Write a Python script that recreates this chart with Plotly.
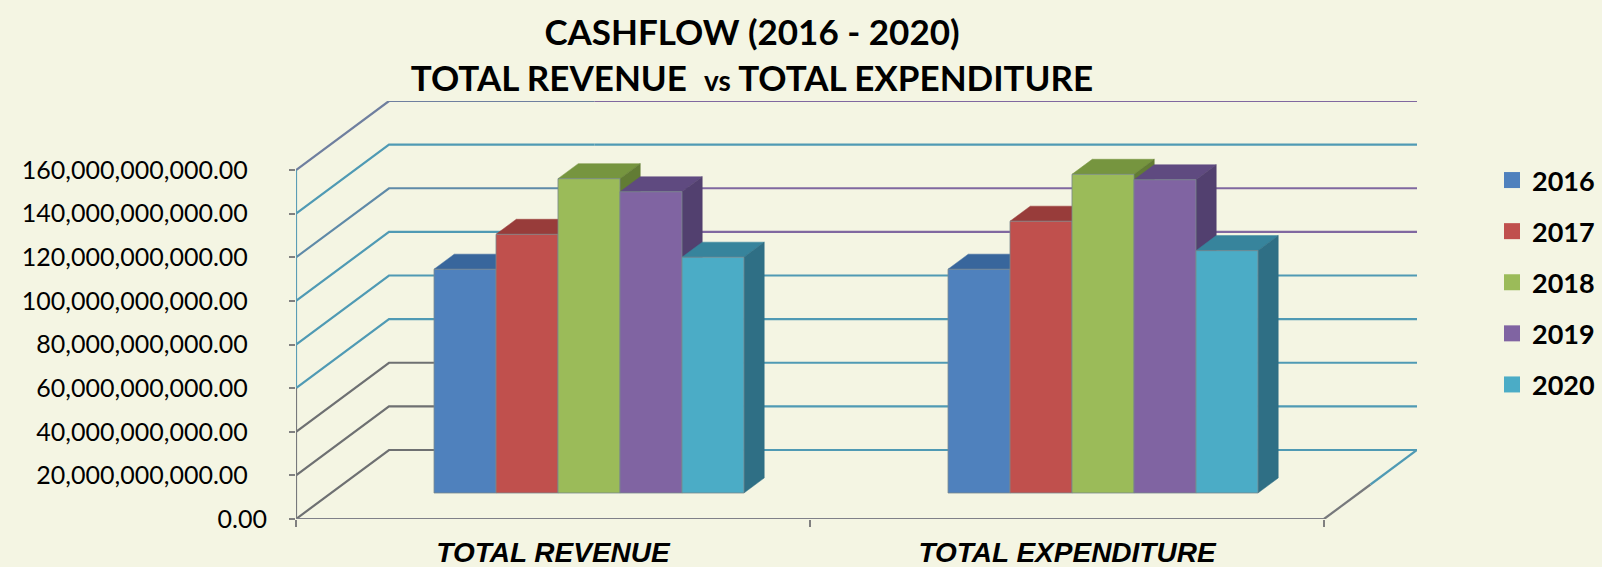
import plotly.graph_objects as go

# ---------- data (values in billions) ----------
categories = ["TOTAL REVENUE", "TOTAL EXPENDITURE"]
years = ["2016", "2017", "2018", "2019", "2020"]
values_2016 = [102.6e9, 102.6e9]
values_2017 = [118.6e9, 124.6e9]
values_2018 = [144.1e9, 146.1e9]
values_2019 = [138.1e9, 143.6e9]
values_2020 = [108.1e9, 111.1e9]
series = [values_2016, values_2017, values_2018, values_2019, values_2020]

y_ticks = [0, 20e9, 40e9, 60e9, 80e9, 100e9, 120e9, 140e9, 160e9]
y_labels = ["0.00"] + [f"{v:,.2f}" + "\u00a0" * 3 for v in y_ticks[1:]]

front_colors = ["#4f81bd", "#c0504d", "#9bbb59", "#8064a2", "#4bacc6"]
top_colors = ["#38669c", "#983c3a", "#76953f", "#5f4a80", "#37849c"]
side_colors = ["#30527e", "#7f3230", "#627c34", "#52406f", "#2f6f85"]
TEAL, PURPLE, GREY = "#4f9ab4", "#8068a0", "#6e7072"
grid_left = [GREY, GREY, GREY, TEAL, TEAL, TEAL, "#5f8aa8", TEAL, "#6f7f9f"]
grid_right = [TEAL, TEAL, TEAL, TEAL, TEAL, PURPLE, PURPLE, TEAL, PURPLE]

# ---------- oblique projection, in axis units ----------
W, H = 1602, 567
L, R, T, B = 296, 1417, 101, 519
CAT_PX = 514.0
VAL_PX = 349.0 / 160e9
DEPTH_X = (R - L - 2 * CAT_PX) / CAT_PX      # categories per unit of depth
DEPTH_Y = (B - T) / VAL_PX - 160e9           # value per unit of depth
BAR_START, BAR_W = 0.2003, 0.1206
D0, D1 = 0.377, 0.595
GRID_BREAK = 0.4


def proj(x, v, d):
    return x + d * DEPTH_X, v + d * DEPTH_Y


def poly(points):
    pts = [proj(*p) for p in points]
    pts.append(pts[0])
    return [p[0] for p in pts], [p[1] for p in pts]


fig = go.Figure()


def line(points, color, width=2.2):
    xs, ys = zip(*[proj(*p) for p in points])
    fig.add_trace(go.Scatter(x=xs, y=ys, mode="lines", line=dict(color=color, width=width),
                             showlegend=False, hoverinfo="skip", cliponaxis=False))


# walls and floor
for v, cl, cr in zip(y_ticks, grid_left, grid_right):
    line([(0, v, 0), (0, v, 1), (GRID_BREAK, v, 1)], cl)
    line([(GRID_BREAK, v, 1), (2, v, 1)], cr)
line([(0, 0, 0), (0, 60e9, 0)], "#77797c")
line([(0, 60e9, 0), (0, 160e9, 0)], "#5b9db5")
line([(0, 0, 0), (2, 0, 0)], "#7f8088")
line([(2, 0, 0), (2, 0, 0.5)], "#77797c")
line([(2, 0, 0.5), (2, 0, 1)], TEAL)


def face(points, color):
    xs, ys = poly(points)
    fig.add_trace(go.Scatter(x=xs, y=ys, mode="lines", fill="toself", fillcolor=color,
                             line=dict(color=color, width=0.5), showlegend=False,
                             hoverinfo="skip", cliponaxis=False))


# bars, painted left to right
for c in range(len(categories)):
    for i, vals in enumerate(series):
        x0 = c + BAR_START + i * BAR_W
        x1 = x0 + BAR_W
        v = vals[c]
        face([(x0, v, D0), (x1, v, D0), (x1, v, D1), (x0, v, D1)], top_colors[i])
        face([(x1, 0, D0), (x1, 0, D1), (x1, v, D1), (x1, v, D0)], side_colors[i])
        xs, ys = poly([(x0, 0, D0), (x1, 0, D0), (x1, v, D0), (x0, v, D0)])
        fig.add_trace(go.Scatter(x=xs, y=ys, mode="lines", fill="toself", fillcolor=front_colors[i],
                                 line=dict(color="rgba(120,135,140,0.8)", width=1), showlegend=False,
                                 name=years[i], cliponaxis=False))

# legend entries
for i, yr in enumerate(years):
    fig.add_trace(go.Scatter(x=[None], y=[None], mode="markers", name=yr, legendgroup=yr,
                             marker=dict(symbol="square", size=16, color=front_colors[i])))

bg = "#f4f5e3"
fig.update_layout(
    width=W, height=H, autosize=False,
    margin=dict(l=L, r=W - R, t=T, b=H - B, pad=0, autoexpand=False),
    paper_bgcolor=bg, plot_bgcolor=bg,
    title=dict(
        text="<b>CASHFLOW (2016 - 2020)<br>TOTAL REVENUE  <span style='font-size:28px'>vs</span> TOTAL EXPENDITURE</b>",
        x=752 / W, xref="container", xanchor="center", y=1 - 45 / H, yref="container", yanchor="top",
        font=dict(family="Lato", size=35, color="#000000"),
    ),
    xaxis=dict(
        automargin=False,
        range=[0, 2 + DEPTH_X], showgrid=False, zeroline=False, showline=False,
        tickmode="array", tickvals=[0.5, 1.5], ticktext=categories, ticks="",
        ticklabelstandoff=14,
        tickfont=dict(family="Liberation Sans", size=28, color="#000000", weight="bold", style="italic"),
        minor=dict(tickmode="array", tickvals=[0, 1, 2], ticks="outside", ticklen=7, tickwidth=2, tickcolor="#808080", showgrid=False),
    ),
    yaxis=dict(
        automargin=False,
        range=[0, 160e9 + DEPTH_Y], showgrid=False, zeroline=False, showline=False,
        tickmode="array", tickvals=y_ticks, ticktext=y_labels, ticks="outside", ticklen=6, tickwidth=2,
        tickcolor="#808080", ticklabelstandoff=17,
        tickfont=dict(family="Lato", size=25, color="#000000"),
    ),
    legend=dict(
        xref="container", yref="container", x=1492 / W, y=1 - 156 / H, xanchor="left", yanchor="top",
        bgcolor="rgba(0,0,0,0)", tracegroupgap=13,
        font=dict(family="Lato", size=27, color="#000000", weight="bold"),
        itemwidth=30,
    ),
    showlegend=True,
)

fig.write_html("out.html", config={"displayModeBar": False},
               post_script="document.body.style.margin='0';document.body.style.overflow='hidden';")
